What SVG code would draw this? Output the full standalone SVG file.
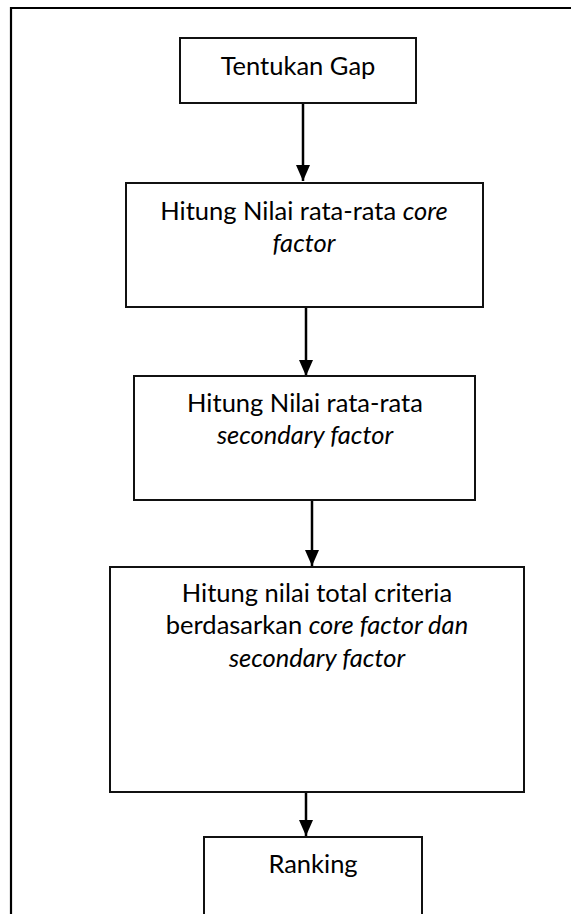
<svg xmlns="http://www.w3.org/2000/svg" width="571" height="914" viewBox="0 0 571 914">
<defs>
<style>
.box{fill:#fff;stroke:#111;stroke-width:2}
.frame{fill:none;stroke:#000;stroke-width:2.2}
.conn{fill:none;stroke:#000;stroke-width:2.5}
.t{font-family:Lato,"Open Sans",sans-serif;font-size:25.5px;fill:#000;text-anchor:middle}
.i{font-style:italic}
</style>
<marker id="ah" markerUnits="userSpaceOnUse" markerWidth="16" markerHeight="14" refX="16" refY="7" orient="auto">
<path d="M0,0 L16,7 L0,14 Z" fill="#000"/>
</marker>
</defs>
<rect width="571" height="914" fill="#fff"/>
<g id="frame">
<path class="frame" d="M11,914 L11,8 L571,8"/>
</g>
<g id="connectors">
<line class="conn" x1="303" y1="103" x2="303" y2="181" marker-end="url(#ah)"/>
<line class="conn" x1="306" y1="307" x2="306" y2="376" marker-end="url(#ah)"/>
<line class="conn" x1="312" y1="500" x2="312" y2="566" marker-end="url(#ah)"/>
<line class="conn" x1="306" y1="792" x2="306" y2="836" marker-end="url(#ah)"/>
</g>
<g id="n1">
<rect class="box" x="180" y="38" width="236" height="65"/>
<text class="t" x="298" y="75">Tentukan Gap</text>
</g>
<g id="n2">
<rect class="box" x="126" y="183" width="357" height="124"/>
<text class="t" x="304" y="220">Hitung Nilai rata-rata <tspan class="i">core</tspan></text>
<text class="t i" x="304" y="252">factor</text>
</g>
<g id="n3">
<rect class="box" x="134" y="376" width="341" height="124"/>
<text class="t" x="305" y="412">Hitung Nilai rata-rata</text>
<text class="t i" x="305" y="444">secondary factor</text>
</g>
<g id="n4">
<rect class="box" x="110" y="567" width="414" height="225"/>
<text class="t" x="317" y="602">Hitung nilai total criteria</text>
<text class="t" x="317" y="634">berdasarkan <tspan class="i">core factor dan</tspan></text>
<text class="t i" x="317" y="667">secondary factor</text>
</g>
<g id="n5">
<rect class="box" x="204" y="837" width="218" height="100"/>
<text class="t" x="313" y="873">Ranking</text>
</g>
</svg>
